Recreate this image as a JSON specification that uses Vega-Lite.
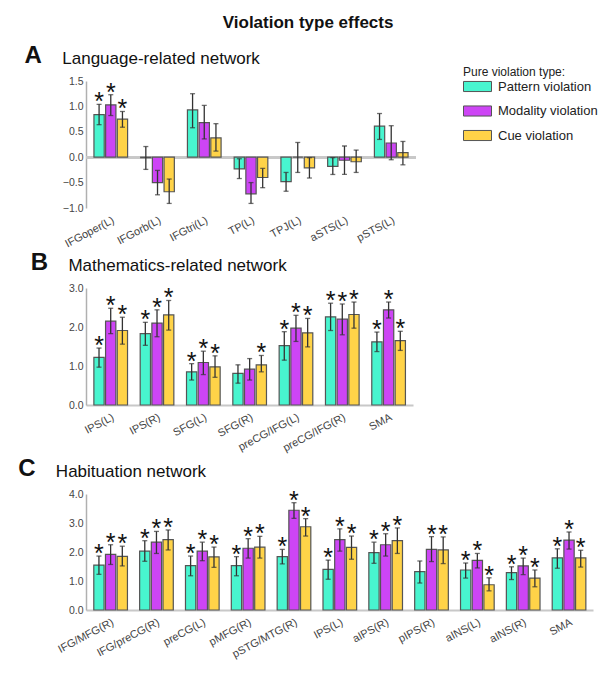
{
  "$schema": "https://vega.github.io/schema/vega-lite/v6.json",
  "padding": {"left": 18, "top": 14, "right": 4, "bottom": 5},
  "background": "white",
  "title": {"text": "Violation type effects", "fontSize": 17, "fontWeight": "bold", "font": "Liberation Sans", "anchor": "middle", "color": "#111", "offset": 12},
  "config": {
    "font": "Liberation Sans",
    "view": {"stroke": null},
    "concat": {"spacing": 2},
    "axis": {"labelFont": "Liberation Sans", "titleFont": "Liberation Sans", "labelColor": "#444", "titleColor": "#222", "labelFontSize": 10.5, "titleFontSize": 11, "titleFontWeight": "normal", "grid": false, "labelOverlap": false},
    "axisY": {"domainColor": "#b0b0b0", "domainWidth": 1.5, "ticks": false, "labelPadding": 3, "format": ".1f", "titlePadding": 3, "title": "Contrast estimate"},
    "axisX": {"ticks": false, "labelAngle": -28, "labelAlign": "right", "labelBaseline": "top", "labelPadding": 6, "title": null, "labelFontSize": 11}
  },
  "datasets": {
    "A": [
      {"region": "IFGoper(L)", "type": "Pattern violation", "value": 0.84, "lo": 0.64, "hi": 1.04, "sig": "*"},
      {"region": "IFGoper(L)", "type": "Modality violation", "value": 1.03, "lo": 0.82, "hi": 1.23, "sig": "*"},
      {"region": "IFGoper(L)", "type": "Cue violation", "value": 0.75, "lo": 0.59, "hi": 0.9, "sig": "*"},
      {"region": "IFGorb(L)", "type": "Pattern violation", "value": -0.01, "lo": -0.24, "hi": 0.21, "sig": ""},
      {"region": "IFGorb(L)", "type": "Modality violation", "value": -0.5, "lo": -0.74, "hi": -0.26, "sig": ""},
      {"region": "IFGorb(L)", "type": "Cue violation", "value": -0.68, "lo": -0.91, "hi": -0.43, "sig": ""},
      {"region": "IFGtri(L)", "type": "Pattern violation", "value": 0.93, "lo": 0.58, "hi": 1.25, "sig": ""},
      {"region": "IFGtri(L)", "type": "Modality violation", "value": 0.68, "lo": 0.36, "hi": 1.02, "sig": ""},
      {"region": "IFGtri(L)", "type": "Cue violation", "value": 0.38, "lo": 0.12, "hi": 0.66, "sig": ""},
      {"region": "TP(L)", "type": "Pattern violation", "value": -0.23, "lo": -0.42, "hi": -0.03, "sig": ""},
      {"region": "TP(L)", "type": "Modality violation", "value": -0.72, "lo": -0.91, "hi": -0.5, "sig": ""},
      {"region": "TP(L)", "type": "Cue violation", "value": -0.4, "lo": -0.6, "hi": -0.22, "sig": ""},
      {"region": "TPJ(L)", "type": "Pattern violation", "value": -0.48, "lo": -0.67, "hi": -0.3, "sig": ""},
      {"region": "TPJ(L)", "type": "Modality violation", "value": 0.0, "lo": -0.3, "hi": 0.29, "sig": ""},
      {"region": "TPJ(L)", "type": "Cue violation", "value": -0.21, "lo": -0.41, "hi": -0.01, "sig": ""},
      {"region": "aSTS(L)", "type": "Pattern violation", "value": -0.18, "lo": -0.34, "hi": -0.01, "sig": ""},
      {"region": "aSTS(L)", "type": "Modality violation", "value": -0.06, "lo": -0.34, "hi": 0.22, "sig": ""},
      {"region": "aSTS(L)", "type": "Cue violation", "value": -0.09, "lo": -0.3, "hi": 0.14, "sig": ""},
      {"region": "pSTS(L)", "type": "Pattern violation", "value": 0.61, "lo": 0.35, "hi": 0.86, "sig": ""},
      {"region": "pSTS(L)", "type": "Modality violation", "value": 0.28, "lo": -0.05, "hi": 0.62, "sig": ""},
      {"region": "pSTS(L)", "type": "Cue violation", "value": 0.09, "lo": -0.15, "hi": 0.31, "sig": ""}
    ],
    "B": [
      {"region": "IPS(L)", "type": "Pattern violation", "value": 1.22, "lo": 0.97, "hi": 1.46, "sig": "*"},
      {"region": "IPS(L)", "type": "Modality violation", "value": 2.15, "lo": 1.83, "hi": 2.48, "sig": "*"},
      {"region": "IPS(L)", "type": "Cue violation", "value": 1.91, "lo": 1.56, "hi": 2.25, "sig": "*"},
      {"region": "IPS(R)", "type": "Pattern violation", "value": 1.83, "lo": 1.53, "hi": 2.12, "sig": "*"},
      {"region": "IPS(R)", "type": "Modality violation", "value": 2.1, "lo": 1.75, "hi": 2.44, "sig": "*"},
      {"region": "IPS(R)", "type": "Cue violation", "value": 2.31, "lo": 1.92, "hi": 2.68, "sig": "*"},
      {"region": "SFG(L)", "type": "Pattern violation", "value": 0.85, "lo": 0.64, "hi": 1.06, "sig": "*"},
      {"region": "SFG(L)", "type": "Modality violation", "value": 1.09, "lo": 0.78, "hi": 1.38, "sig": "*"},
      {"region": "SFG(L)", "type": "Cue violation", "value": 0.98, "lo": 0.71, "hi": 1.26, "sig": "*"},
      {"region": "SFG(R)", "type": "Pattern violation", "value": 0.81, "lo": 0.56, "hi": 1.03, "sig": ""},
      {"region": "SFG(R)", "type": "Modality violation", "value": 0.92, "lo": 0.64, "hi": 1.19, "sig": ""},
      {"region": "SFG(R)", "type": "Cue violation", "value": 1.03, "lo": 0.85, "hi": 1.27, "sig": "*"},
      {"region": "preCG/IFG(L)", "type": "Pattern violation", "value": 1.52, "lo": 1.15, "hi": 1.88, "sig": "*"},
      {"region": "preCG/IFG(L)", "type": "Modality violation", "value": 1.97, "lo": 1.63, "hi": 2.3, "sig": "*"},
      {"region": "preCG/IFG(L)", "type": "Cue violation", "value": 1.85, "lo": 1.49, "hi": 2.22, "sig": "*"},
      {"region": "preCG/IFG(R)", "type": "Pattern violation", "value": 2.26, "lo": 1.91, "hi": 2.61, "sig": "*"},
      {"region": "preCG/IFG(R)", "type": "Modality violation", "value": 2.2, "lo": 1.8, "hi": 2.59, "sig": "*"},
      {"region": "preCG/IFG(R)", "type": "Cue violation", "value": 2.32, "lo": 1.97, "hi": 2.64, "sig": "*"},
      {"region": "SMA", "type": "Pattern violation", "value": 1.62, "lo": 1.37, "hi": 1.87, "sig": "*"},
      {"region": "SMA", "type": "Modality violation", "value": 2.44, "lo": 2.23, "hi": 2.64, "sig": "*"},
      {"region": "SMA", "type": "Cue violation", "value": 1.65, "lo": 1.4, "hi": 1.89, "sig": "*"}
    ],
    "C": [
      {"region": "IFG/MFG(R)", "type": "Pattern violation", "value": 1.55, "lo": 1.23, "hi": 1.86, "sig": "*"},
      {"region": "IFG/MFG(R)", "type": "Modality violation", "value": 1.92, "lo": 1.57, "hi": 2.25, "sig": "*"},
      {"region": "IFG/MFG(R)", "type": "Cue violation", "value": 1.85, "lo": 1.52, "hi": 2.2, "sig": "*"},
      {"region": "IFG/preCG(R)", "type": "Pattern violation", "value": 2.03, "lo": 1.68, "hi": 2.39, "sig": "*"},
      {"region": "IFG/preCG(R)", "type": "Modality violation", "value": 2.34, "lo": 1.95, "hi": 2.71, "sig": "*"},
      {"region": "IFG/preCG(R)", "type": "Cue violation", "value": 2.43, "lo": 2.07, "hi": 2.76, "sig": "*"},
      {"region": "preCG(L)", "type": "Pattern violation", "value": 1.53, "lo": 1.18, "hi": 1.86, "sig": "*"},
      {"region": "preCG(L)", "type": "Modality violation", "value": 2.03, "lo": 1.7, "hi": 2.34, "sig": "*"},
      {"region": "preCG(L)", "type": "Cue violation", "value": 1.83, "lo": 1.47, "hi": 2.17, "sig": "*"},
      {"region": "pMFG(R)", "type": "Pattern violation", "value": 1.53, "lo": 1.18, "hi": 1.84, "sig": "*"},
      {"region": "pMFG(R)", "type": "Modality violation", "value": 2.13, "lo": 1.79, "hi": 2.46, "sig": "*"},
      {"region": "pMFG(R)", "type": "Cue violation", "value": 2.17, "lo": 1.79, "hi": 2.54, "sig": "*"},
      {"region": "pSTG/MTG(R)", "type": "Pattern violation", "value": 1.84, "lo": 1.59, "hi": 2.09, "sig": "*"},
      {"region": "pSTG/MTG(R)", "type": "Modality violation", "value": 3.44, "lo": 3.16, "hi": 3.7, "sig": "*"},
      {"region": "pSTG/MTG(R)", "type": "Cue violation", "value": 2.87, "lo": 2.55, "hi": 3.15, "sig": "*"},
      {"region": "IPS(L)", "type": "Pattern violation", "value": 1.4, "lo": 1.06, "hi": 1.72, "sig": "*"},
      {"region": "IPS(L)", "type": "Modality violation", "value": 2.43, "lo": 2.03, "hi": 2.8, "sig": "*"},
      {"region": "IPS(L)", "type": "Cue violation", "value": 2.16, "lo": 1.75, "hi": 2.55, "sig": "*"},
      {"region": "aIPS(R)", "type": "Pattern violation", "value": 1.98, "lo": 1.61, "hi": 2.34, "sig": "*"},
      {"region": "aIPS(R)", "type": "Modality violation", "value": 2.25, "lo": 1.86, "hi": 2.63, "sig": "*"},
      {"region": "aIPS(R)", "type": "Cue violation", "value": 2.39, "lo": 1.95, "hi": 2.83, "sig": "*"},
      {"region": "pIPS(R)", "type": "Pattern violation", "value": 1.32, "lo": 0.93, "hi": 1.69, "sig": ""},
      {"region": "pIPS(R)", "type": "Modality violation", "value": 2.09, "lo": 1.67, "hi": 2.53, "sig": "*"},
      {"region": "pIPS(R)", "type": "Cue violation", "value": 2.07, "lo": 1.6, "hi": 2.52, "sig": "*"},
      {"region": "aINS(L)", "type": "Pattern violation", "value": 1.38, "lo": 1.1, "hi": 1.62, "sig": "*"},
      {"region": "aINS(L)", "type": "Modality violation", "value": 1.71, "lo": 1.45, "hi": 1.95, "sig": "*"},
      {"region": "aINS(L)", "type": "Cue violation", "value": 0.87, "lo": 0.66, "hi": 1.11, "sig": "*"},
      {"region": "aINS(R)", "type": "Pattern violation", "value": 1.29, "lo": 1.05, "hi": 1.49, "sig": "*"},
      {"region": "aINS(R)", "type": "Modality violation", "value": 1.52, "lo": 1.22, "hi": 1.79, "sig": "*"},
      {"region": "aINS(R)", "type": "Cue violation", "value": 1.1, "lo": 0.8, "hi": 1.38, "sig": "*"},
      {"region": "SMA", "type": "Pattern violation", "value": 1.8, "lo": 1.44, "hi": 2.11, "sig": "*"},
      {"region": "SMA", "type": "Modality violation", "value": 2.41, "lo": 2.1, "hi": 2.69, "sig": "*"},
      {"region": "SMA", "type": "Cue violation", "value": 1.8, "lo": 1.48, "hi": 2.06, "sig": "*"}
    ]
  },
  "vconcat": [
    {
      "title": {"text": "A", "orient": "left", "anchor": "end", "angle": 0, "align": "right", "baseline": "top", "fontSize": 24, "fontWeight": "bold", "color": "#111", "offset": 3, "dy": -6},
      "vconcat": [
        {
          "title": {"text": "Language-related network", "anchor": "start", "frame": "bounds", "fontSize": 17, "fontWeight": "normal", "color": "#111", "offset": 8},
          "width": 330,
          "height": 127,
          "data": {"name": "A"},
          "encoding": {
            "x": {"field": "region", "type": "nominal", "sort": null, "scale": {"paddingInner": 0.28, "paddingOuter": 0.17}, "axis": {"domain": false}},
            "xOffset": {"field": "type", "type": "nominal", "sort": ["Pattern violation", "Modality violation", "Cue violation"], "scale": {"paddingInner": 0.12}}
          },
          "layer": [
            {"mark": {"type": "rule", "color": "#c8c8c8", "strokeWidth": 2}, "encoding": {"x": null, "xOffset": null, "y": {"datum": 0, "type": "quantitative", "scale": {"domain": [-1, 1.5], "nice": false}, "axis": {"values": [-1, -0.5, 0, 0.5, 1, 1.5]}}}},
            {"mark": {"type": "bar", "stroke": "#555", "strokeWidth": 1.2},
             "encoding": {
               "y": {"field": "value", "type": "quantitative", "axis": {"values": [-1, -0.5, 0, 0.5, 1, 1.5]}},
               "color": {"field": "type", "type": "nominal", "scale": {"domain": ["Pattern violation", "Modality violation", "Cue violation"], "range": ["#48F5CF", "#CD45F5", "#FFD348"]},
                 "legend": {"orient": "none", "legendX": 377, "legendY": -14, "title": "Pure violation type:", "titleFontSize": 12, "titleFontWeight": "normal", "titleColor": "#222", "labelFontSize": 13, "labelColor": "#222", "labelLimit": 300, "symbolType": "M-1,-0.36H1V0.36H-1Z", "symbolSize": 784, "symbolStrokeColor": "#333", "symbolStrokeWidth": 1, "rowPadding": 2.5, "titlePadding": -7, "labelOffset": 6}}
             }},
            {"mark": {"type": "rule", "color": "#333", "strokeWidth": 1.3}, "encoding": {"y": {"field": "lo", "type": "quantitative", "axis": {"values": [-1, -0.5, 0, 0.5, 1, 1.5]}}, "y2": {"field": "hi"}}},
            {"mark": {"type": "tick", "color": "#333", "thickness": 1.3, "size": 5}, "encoding": {"y": {"field": "lo", "type": "quantitative", "axis": {"values": [-1, -0.5, 0, 0.5, 1, 1.5]}}}},
            {"mark": {"type": "tick", "color": "#333", "thickness": 1.3, "size": 5}, "encoding": {"y": {"field": "hi", "type": "quantitative", "axis": {"values": [-1, -0.5, 0, 0.5, 1, 1.5]}}}},
            {"mark": {"type": "text", "fontSize": 25, "color": "#111", "baseline": "alphabetic", "dy": 6}, "encoding": {"y": {"field": "hi", "type": "quantitative", "axis": {"values": [-1, -0.5, 0, 0.5, 1, 1.5]}}, "text": {"field": "sig"}}}
          ]
        }
      ]
    },
    {
      "title": {"text": "B", "orient": "left", "anchor": "end", "angle": 0, "align": "right", "baseline": "top", "fontSize": 24, "fontWeight": "bold", "color": "#111", "offset": 3, "dy": -6},
      "vconcat": [
        {
          "title": {"text": "Mathematics-related network", "anchor": "start", "frame": "bounds", "fontSize": 17, "fontWeight": "normal", "color": "#111", "offset": 8},
          "width": 327,
          "height": 117,
          "data": {"name": "B"},
          "encoding": {
            "x": {"field": "region", "type": "nominal", "sort": null, "scale": {"paddingInner": 0.28, "paddingOuter": 0.17}, "axis": {"domain": true, "domainColor": "#c8c8c8", "domainWidth": 2}},
            "xOffset": {"field": "type", "type": "nominal", "sort": ["Pattern violation", "Modality violation", "Cue violation"], "scale": {"paddingInner": 0.12}}
          },
          "layer": [
            {"mark": {"type": "bar", "stroke": "#555", "strokeWidth": 1.2},
             "encoding": {
               "y": {"field": "value", "type": "quantitative", "scale": {"domain": [0, 3], "nice": false}, "axis": {"values": [0, 1, 2, 3]}},
               "color": {"field": "type", "type": "nominal", "scale": {"domain": ["Pattern violation", "Modality violation", "Cue violation"], "range": ["#48F5CF", "#CD45F5", "#FFD348"]}}
             }},
            {"mark": {"type": "rule", "color": "#333", "strokeWidth": 1.3}, "encoding": {"y": {"field": "lo", "type": "quantitative", "axis": {"values": [0, 1, 2, 3]}}, "y2": {"field": "hi"}}},
            {"mark": {"type": "tick", "color": "#333", "thickness": 1.3, "size": 5}, "encoding": {"y": {"field": "lo", "type": "quantitative", "axis": {"values": [0, 1, 2, 3]}}}},
            {"mark": {"type": "tick", "color": "#333", "thickness": 1.3, "size": 5}, "encoding": {"y": {"field": "hi", "type": "quantitative", "axis": {"values": [0, 1, 2, 3]}}}},
            {"mark": {"type": "text", "fontSize": 25, "color": "#111", "baseline": "alphabetic", "dy": 6}, "encoding": {"y": {"field": "hi", "type": "quantitative", "axis": {"values": [0, 1, 2, 3]}}, "text": {"field": "sig"}}}
          ]
        }
      ]
    },
    {
      "title": {"text": "C", "orient": "left", "anchor": "end", "angle": 0, "align": "right", "baseline": "top", "fontSize": 24, "fontWeight": "bold", "color": "#111", "offset": 3, "dy": -6},
      "vconcat": [
        {
          "title": {"text": "Habituation network", "anchor": "start", "frame": "bounds", "fontSize": 17, "fontWeight": "normal", "color": "#111", "offset": 8},
          "width": 507,
          "height": 116,
          "data": {"name": "C"},
          "encoding": {
            "x": {"field": "region", "type": "nominal", "sort": null, "scale": {"paddingInner": 0.28, "paddingOuter": 0.17}, "axis": {"domain": true, "domainColor": "#c8c8c8", "domainWidth": 2}},
            "xOffset": {"field": "type", "type": "nominal", "sort": ["Pattern violation", "Modality violation", "Cue violation"], "scale": {"paddingInner": 0.12}}
          },
          "layer": [
            {"mark": {"type": "bar", "stroke": "#555", "strokeWidth": 1.2},
             "encoding": {
               "y": {"field": "value", "type": "quantitative", "scale": {"domain": [0, 4], "nice": false}, "axis": {"values": [0, 1, 2, 3, 4]}},
               "color": {"field": "type", "type": "nominal", "scale": {"domain": ["Pattern violation", "Modality violation", "Cue violation"], "range": ["#48F5CF", "#CD45F5", "#FFD348"]}}
             }},
            {"mark": {"type": "rule", "color": "#333", "strokeWidth": 1.3}, "encoding": {"y": {"field": "lo", "type": "quantitative", "axis": {"values": [0, 1, 2, 3, 4]}}, "y2": {"field": "hi"}}},
            {"mark": {"type": "tick", "color": "#333", "thickness": 1.3, "size": 5}, "encoding": {"y": {"field": "lo", "type": "quantitative", "axis": {"values": [0, 1, 2, 3, 4]}}}},
            {"mark": {"type": "tick", "color": "#333", "thickness": 1.3, "size": 5}, "encoding": {"y": {"field": "hi", "type": "quantitative", "axis": {"values": [0, 1, 2, 3, 4]}}}},
            {"mark": {"type": "text", "fontSize": 25, "color": "#111", "baseline": "alphabetic", "dy": 6}, "encoding": {"y": {"field": "hi", "type": "quantitative", "axis": {"values": [0, 1, 2, 3, 4]}}, "text": {"field": "sig"}}}
          ]
        }
      ]
    }
  ]
}
